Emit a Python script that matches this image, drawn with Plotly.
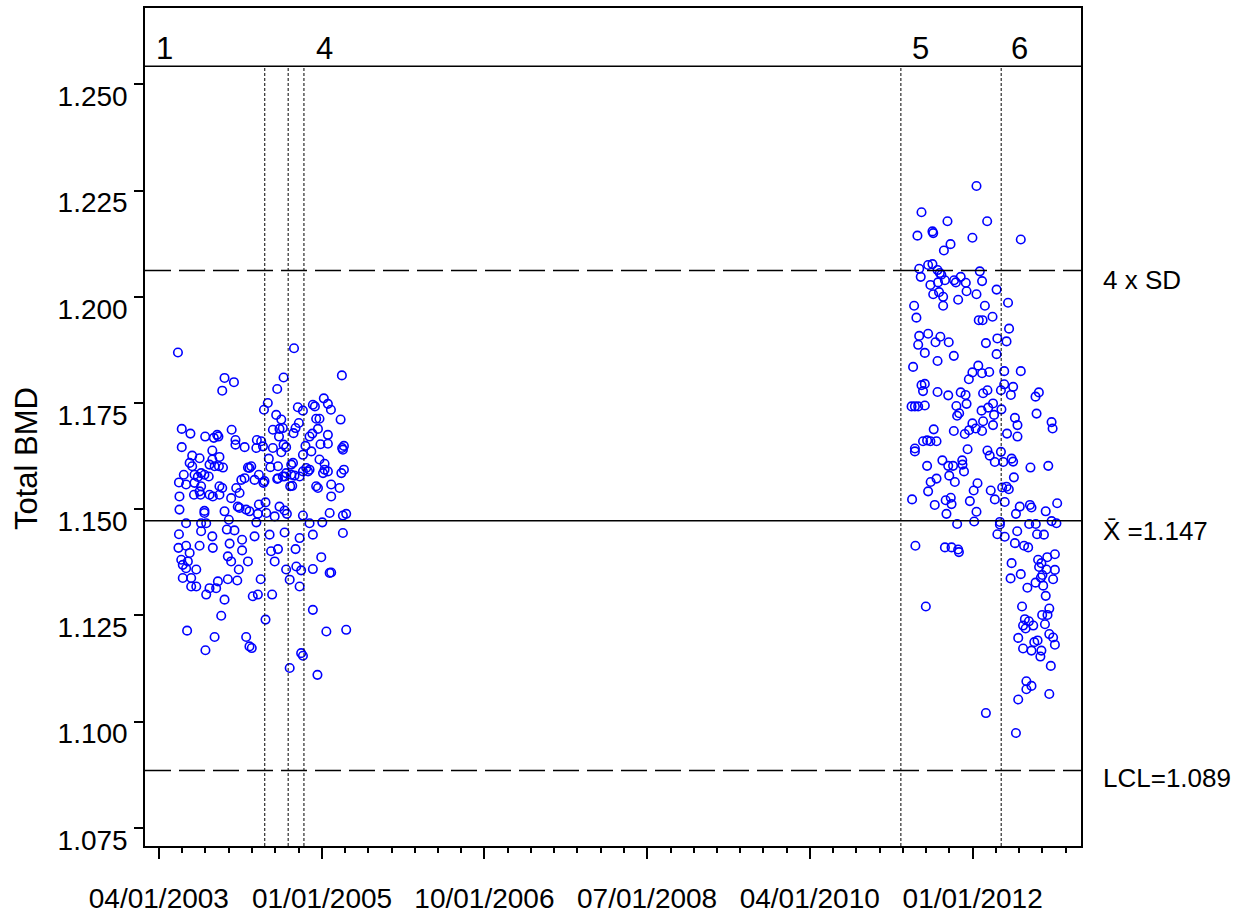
import plotly.graph_objects as go
import pandas as pd

# ---------------- data ----------------
START = "2003-04-01"          # day 0 of the study-day counts below

# phases 1-4 (study days, Total BMD)
left_day = [
    75, 531, 719, 258, 295, 249, 490, 465, 428, 413,
    648, 664, 605, 676, 613, 546, 566, 461, 481, 618,
    631, 714, 550, 537, 529, 90, 124, 182, 216, 229,
    234, 286, 448, 474, 487, 472, 500, 592, 603, 625,
    664, 301, 301, 337, 383, 402, 409, 385, 90, 210,
    448, 490, 481, 576, 599, 566, 635, 664, 720, 727,
    723, 131, 160, 121, 131, 238, 236, 252, 199, 210,
    219, 350, 363, 393, 432, 438, 468, 520, 527, 500,
    494, 468, 533, 553, 566, 579, 592, 631, 651, 651,
    664, 645, 717, 727, 710, 79, 98, 107, 140, 140,
    166, 153, 179, 196, 166, 199, 212, 238, 249, 238,
    284, 304, 317, 324, 337, 356, 376, 411, 415, 81,
    138, 160, 164, 465, 487, 516, 524, 520, 586, 618,
    625, 677, 677, 81, 179, 179, 258, 310, 317, 343,
    356, 393, 389, 419, 422, 455, 474, 494, 503, 566,
    592, 671, 723, 736, 642, 107, 166, 186, 275, 267,
    297, 383, 79, 166, 210, 327, 376, 435, 494, 553,
    723, 605, 77, 107, 121, 160, 212, 278, 327, 468,
    537, 441, 88, 94, 114, 107, 147, 271, 284, 350,
    455, 500, 540, 559, 605, 638, 671, 677, 94, 127,
    127, 147, 186, 199, 232, 225, 271, 308, 314, 369,
    389, 400, 445, 514, 553, 258, 245, 419, 605, 111,
    219, 343, 356, 365, 183, 658, 736, 559, 566, 514, 623,
]
left_bmd = [
    1.1869, 1.1879, 1.1815, 1.1809, 1.1799, 1.1779, 1.1810, 1.1783, 1.1750, 1.1734,
    1.1761, 1.1748, 1.1746, 1.1734, 1.1742, 1.1740, 1.1732, 1.1722, 1.1711, 1.1713,
    1.1713, 1.1711, 1.1703, 1.1691, 1.1679, 1.1689, 1.1678, 1.1671, 1.1668, 1.1675,
    1.1671, 1.1687, 1.1687, 1.1689, 1.1691, 1.1671, 1.1646, 1.1671, 1.1678, 1.1689,
    1.1675, 1.1663, 1.1652, 1.1646, 1.1644, 1.1660, 1.1648, 1.1663, 1.1646, 1.1638,
    1.1644, 1.1652, 1.1634, 1.1649, 1.1636, 1.1628, 1.1653, 1.1654, 1.1644, 1.1649,
    1.1640, 1.1626, 1.1620, 1.1609, 1.1601, 1.1623, 1.1601, 1.1598, 1.1605, 1.1617,
    1.1601, 1.1598, 1.1601, 1.1581, 1.1619, 1.1599, 1.1601, 1.1605, 1.1609, 1.1585,
    1.1577, 1.1573, 1.1579, 1.1577, 1.1589, 1.1597, 1.1593, 1.1617, 1.1607, 1.1593,
    1.1589, 1.1585, 1.1585, 1.1593, 1.1550, 1.1563, 1.1581, 1.1558, 1.1581, 1.1562,
    1.1585, 1.1576, 1.1581, 1.1577, 1.1554, 1.1534, 1.1530, 1.1554, 1.1550, 1.1534,
    1.1526, 1.1550, 1.1538, 1.1569, 1.1573, 1.1597, 1.1569, 1.1562, 1.1566, 1.1530,
    1.1534, 1.1542, 1.1534, 1.1571, 1.1577, 1.1554, 1.1555, 1.1581, 1.1589, 1.1554,
    1.1550, 1.1558, 1.1530, 1.1499, 1.1496, 1.1491, 1.1495, 1.1506, 1.1503, 1.1499,
    1.1495, 1.1511, 1.1489, 1.1516, 1.1491, 1.1483, 1.1506, 1.1497, 1.1489, 1.1485,
    1.1467, 1.1491, 1.1485, 1.1489, 1.1469, 1.1467, 1.1467, 1.1467, 1.1475, 1.1452,
    1.1450, 1.1469, 1.1441, 1.1448, 1.1436, 1.1428, 1.1436, 1.1440, 1.1445, 1.1432,
    1.1444, 1.1440, 1.1409, 1.1414, 1.1397, 1.1414, 1.1409, 1.1419, 1.1403, 1.1406,
    1.1406, 1.1401, 1.1381, 1.1369, 1.1377, 1.1361, 1.1358, 1.1389, 1.1377, 1.1377,
    1.1377, 1.1358, 1.1365, 1.1356, 1.1359, 1.1387, 1.1350, 1.1351, 1.1338, 1.1338,
    1.1318, 1.1318, 1.1299, 1.1314, 1.1330, 1.1314, 1.1335, 1.1332, 1.1358, 1.1295,
    1.1299, 1.1335, 1.1299, 1.1334, 1.1318, 1.1287, 1.1249, 1.1240, 1.1263, 1.1214,
    1.1199, 1.1199, 1.1177, 1.1173, 1.1168, 1.1212, 1.1216, 1.1161, 1.1155, 1.1126, 1.1110,
]

# phases 5-6 (study days, Total BMD)
right_day = [
    3212, 2996, 3098, 3254, 2980, 3039, 3042, 3196, 3386, 3110,
    3084, 2987, 2993, 3022, 3039, 3059, 3068, 3074, 3225, 3088,
    3124, 3131, 3150, 3170, 3234, 3031, 3061, 3042, 3065, 3081,
    3173, 3212, 3291, 3081, 3140, 3245, 3336, 2967, 2976, 3221,
    3236, 3275, 3340, 2987, 3022, 3070, 2983, 3051, 3103, 3009,
    3059, 3123, 3249, 3294, 3330, 3291, 2963, 3219, 3196, 3234,
    3262, 3182, 3321, 3386, 2996, 3009, 3002, 3059, 3101, 3150,
    3169, 3238, 3255, 3308, 3321, 3356, 3347, 3444, 3457, 2957,
    2970, 2983, 3009, 3133, 3173, 3144, 3136, 3232, 3258, 3277,
    3281, 3310, 3448, 3363, 3373, 3507, 3511, 3196, 3238, 3209,
    3234, 3277, 3123, 3166, 3183, 3044, 3002, 3018, 3031, 3055,
    3332, 3373, 2970, 2970, 3177, 3255, 3264, 3284, 3308, 3317,
    3350, 3356, 3156, 3157, 3078, 3101, 3120, 3163, 3018, 3424,
    3494, 3055, 3032, 3022, 3105, 3127, 3216, 3201, 3268, 3313,
    3330, 3339, 3359, 3284, 3186, 2959, 3048, 3091, 3111, 3114,
    3094, 3212, 3323, 3382, 3422, 3428, 3484, 3529, 3367, 3136,
    3203, 3304, 3304, 3419, 3445, 3507, 3526, 3294, 3323, 3372,
    3450, 3477, 2972, 3088, 3114, 3140, 3143, 3363, 3399, 3415,
    3520, 3490, 3454, 3467, 3458, 3487, 3520, 3471, 3465, 3350,
    3386, 3346, 3513, 3444, 3412, 3474, 3484, 3013, 3391, 3498,
    3470, 3491, 3402, 3418, 3395, 3435, 3405, 3481, 3498, 3376,
    3513, 3520, 3439, 3452, 3395, 3428, 3467, 3463, 3504, 3408,
    3428, 3408, 3498, 3376, 3249, 3367,
]
right_bmd = [
    1.2261, 1.2199, 1.2178, 1.2178, 1.2144, 1.2154, 1.2150, 1.2139, 1.2135, 1.2124,
    1.2109, 1.2066, 1.2047, 1.2075, 1.2077, 1.2063, 1.2056, 1.2052, 1.2060, 1.2039,
    1.2039, 1.2034, 1.2047, 1.2033, 1.2037, 1.2028, 1.2034, 1.2006, 1.2011, 1.2000,
    1.2013, 1.2006, 1.2017, 1.1979, 1.1993, 1.1979, 1.1986, 1.1979, 1.1951, 1.1945,
    1.1945, 1.1953, 1.1925, 1.1908, 1.1913, 1.1906, 1.1887, 1.1893, 1.1893, 1.1868,
    1.1849, 1.1861, 1.1891, 1.1902, 1.1895, 1.1865, 1.1835, 1.1838, 1.1822, 1.1820,
    1.1823, 1.1806, 1.1825, 1.1825, 1.1792, 1.1795, 1.1778, 1.1776, 1.1768, 1.1775,
    1.1769, 1.1773, 1.1780, 1.1780, 1.1794, 1.1788, 1.1769, 1.1765, 1.1775, 1.1742,
    1.1742, 1.1742, 1.1744, 1.1743, 1.1748, 1.1726, 1.1720, 1.1732, 1.1739, 1.1749,
    1.1722, 1.1735, 1.1725, 1.1715, 1.1698, 1.1705, 1.1690, 1.1702, 1.1707, 1.1690,
    1.1684, 1.1698, 1.1684, 1.1677, 1.1686, 1.1688, 1.1660, 1.1662, 1.1660, 1.1660,
    1.1678, 1.1671, 1.1643, 1.1636, 1.1641, 1.1638, 1.1626, 1.1611, 1.1635, 1.1611,
    1.1619, 1.1612, 1.1615, 1.1605, 1.1615, 1.1602, 1.1602, 1.1589, 1.1602, 1.1598,
    1.1602, 1.1572, 1.1564, 1.1542, 1.1579, 1.1564, 1.1561, 1.1544, 1.1544, 1.1551,
    1.1553, 1.1547, 1.1575, 1.1523, 1.1519, 1.1523, 1.1510, 1.1521, 1.1527, 1.1512,
    1.1489, 1.1494, 1.1517, 1.1506, 1.1510, 1.1504, 1.1495, 1.1514, 1.1489, 1.1465,
    1.1471, 1.1470, 1.1464, 1.1465, 1.1465, 1.1472, 1.1467, 1.1441, 1.1435, 1.1448,
    1.1441, 1.1440, 1.1414, 1.1410, 1.1410, 1.1405, 1.1399, 1.1420, 1.1414, 1.1410,
    1.1394, 1.1387, 1.1381, 1.1373, 1.1364, 1.1358, 1.1357, 1.1345, 1.1339, 1.1373,
    1.1347, 1.1337, 1.1335, 1.1327, 1.1315, 1.1320, 1.1296, 1.1271, 1.1271, 1.1266,
    1.1251, 1.1251, 1.1241, 1.1236, 1.1226, 1.1226, 1.1219, 1.1229, 1.1206, 1.1197,
    1.1198, 1.1181, 1.1187, 1.1191, 1.1172, 1.1167, 1.1167, 1.1153, 1.1131, 1.1095,
    1.1084, 1.1076, 1.1065, 1.1052, 1.1020, 1.0973,
]

# control limits
MEAN = 1.1473
UPPER_4SD = 1.2062
LCL = 1.0885
limit_labels = ["4 x SD", "X\u0304 =1.147", "LCL=1.089"]

# phase boundaries and phase labels
phase_breaks = ["2004-05-21", "2004-08-21", "2004-10-22", "2011-03-25", "2012-04-22"]
phase_names = ["1", "4", "5", "6"]
phase_label_dates = ["2003-04-23", "2005-01-11", "2011-06-11", "2012-07-04"]

# axes
y_ticks = [1.075, 1.100, 1.125, 1.150, 1.175, 1.200, 1.225, 1.250]
X_RANGE = ["2003-02-05 14:00", "2013-03-01 14:00"]
Y_RANGE = [1.0707, 1.2680]
BAND_LINE = 1.2543

# ---------------- figure ----------------
FONT = "Liberation Sans, Arial, sans-serif"

base = pd.Timestamp(START)
all_days = left_day + right_day
all_bmd = left_bmd + right_bmd
n = min(len(all_days), len(all_bmd))
dates = [base + pd.Timedelta(days=d) for d in all_days[:n]]

fig = go.Figure()
fig.add_trace(go.Scatter(
    x=dates, y=all_bmd[:n], mode="markers",
    marker=dict(symbol="circle-open", size=8.5, color="#0000ff",
                line=dict(width=1.6, color="#0000ff")),
    showlegend=False, hoverinfo="x+y",
))

shapes = []
shapes.append(dict(type="line", xref="paper", x0=0, x1=1, yref="y",
                   y0=BAND_LINE, y1=BAND_LINE, line=dict(color="black", width=1.5)))
shapes.append(dict(type="line", xref="paper", x0=0, x1=1, yref="y",
                   y0=MEAN, y1=MEAN, line=dict(color="black", width=1.5)))
for v in (UPPER_4SD, LCL):
    shapes.append(dict(type="line", xref="paper", x0=0, x1=1, yref="y",
                       y0=v, y1=v, line=dict(color="black", width=1.5, dash="26px,8px")))
for d in phase_breaks:
    shapes.append(dict(type="line", xref="x", x0=d, x1=d, yref="y",
                       y0=Y_RANGE[0], y1=BAND_LINE,
                       line=dict(color="black", width=1, dash="3px,2px")))

annotations = []
for name, d in zip(phase_names, phase_label_dates):
    annotations.append(dict(x=d, xref="x", y=0.9517, yref="paper", text=name,
                            showarrow=False, xanchor="center", yanchor="middle",
                            font=dict(family=FONT, size=31, color="black")))

for txt, v, dy in zip(limit_labels, (UPPER_4SD, MEAN, LCL), (-10, -10, -8)):
    annotations.append(dict(x=1, xref="paper", y=v, yref="y", text=txt,
                            showarrow=False, xanchor="left", yanchor="middle",
                            xshift=20, yshift=dy,
                            font=dict(family=FONT, size=26, color="black")))

annotations.append(dict(x=0, xref="paper", y=0.4618, yref="paper", text="Total BMD",
                        textangle=-90, showarrow=False, xanchor="center", yanchor="middle",
                        xshift=-119, font=dict(family=FONT, size=31, color="black")))

fig.update_layout(
    width=1238, height=918,
    margin=dict(l=145, r=157, t=8, b=72, pad=0),
    paper_bgcolor="white", plot_bgcolor="white",
    shapes=shapes, annotations=annotations,
    font=dict(family=FONT, size=28, color="black"),
    showlegend=False,
)
fig.update_xaxes(
    type="date", range=X_RANGE, tick0=START, dtick="M21", tickformat="%m/%d/%Y",
    tickangle=0, automargin=False,
    ticks="outside", ticklen=11, tickwidth=1.5, tickcolor="black",
    showline=True, linecolor="black", linewidth=1.5, mirror=True,
    showgrid=False, zeroline=False, ticklabelstandoff=16,
    tickfont=dict(family=FONT, size=28, color="black"),
    minor=dict(ticks="outside", ticklen=5, tickwidth=1.5, tickcolor="black",
               dtick="M3", tick0=START, showgrid=False),
)
fig.update_yaxes(
    range=Y_RANGE, tickvals=y_ticks, ticktext=[f"{v:.3f}" for v in y_ticks],
    automargin=False,
    ticks="outside", ticklen=9, tickwidth=1.5, tickcolor="black",
    showline=True, linecolor="black", linewidth=1.5, mirror=True,
    showgrid=False, zeroline=False, ticklabelshift=12, ticklabelstandoff=1,
    tickfont=dict(family=FONT, size=28, color="black"),
)

fig.write_html("out.html")
